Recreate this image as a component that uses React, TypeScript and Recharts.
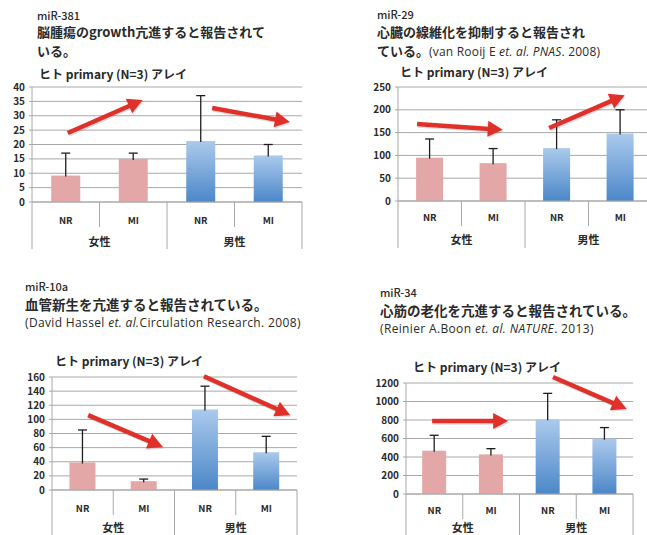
import React from 'react';
import { BarChart, Bar, XAxis, YAxis, CartesianGrid, Cell } from 'recharts';

const categories = ['NR', 'MI', 'NR', 'MI'];
const groups = ['女性', '女性', '男性', '男性'];

const mir381Values = [9.2, 15, 21.2, 16.2];
const mir381ErrTop = [17, 17, 37, 20];
const mir381Ticks = [0, 5, 10, 15, 20, 25, 30, 35, 40];
// trend arrows: [x start, value start, x end, value end], x in category units (0..4)
const mir381Arrows = [
  [0.53, 24, 1.64, 35.5],
  [2.67, 32.7, 3.82, 27.8],
];

const mir29Values = [95, 83, 116, 148];
const mir29ErrTop = [136, 115, 178, 200];
const mir29Ticks = [0, 50, 100, 150, 200, 250];
const mir29Arrows = [
  [0.3, 169, 1.65, 156],
  [2.38, 160, 3.57, 232],
];

const mir10aValues = [39, 12.5, 114, 53.5];
const mir10aErrTop = [85, 15.5, 147, 76];
const mir10aTicks = [0, 20, 40, 60, 80, 100, 120, 140, 160];
const mir10aArrows = [
  [0.59, 106, 1.81, 61],
  [2.48, 161, 3.89, 106],
];

const mir34Values = [468, 428, 808, 598];
const mir34ErrTop = [635, 490, 1088, 718];
const mir34Ticks = [0, 200, 400, 600, 800, 1000, 1200];
const mir34Arrows = [
  [0.46, 789, 1.8, 789],
  [2.59, 1265, 3.89, 919],
];

const FONT = '"Noto Sans CJK JP", "Noto Sans", sans-serif';
const LATIN = '"Open Sans", "Noto Sans CJK JP", sans-serif';
const TEXT = '#2a2a2a';
const GRID = '#a8a8a8';
const PINK = '#e3a7a7';
const RED = '#e0302a';

const BarWithError = (p: any) => {
  const { x, y, width, height, fill, payload } = p;
  if (!payload || !height) return null;
  const base = y + height;
  const ey = base - (payload.errTop / payload.value) * height;
  const cx = x + width / 2;
  return (
    <g>
      <rect x={x} y={y} width={width} height={height} fill={fill} />
      <line x1={cx} x2={cx} y1={y + 1} y2={ey} stroke="#1e1e1e" strokeWidth={1.3} />
      <line x1={cx - 4.5} x2={cx + 4.5} y1={ey} y2={ey} stroke="#1e1e1e" strokeWidth={1.3} />
    </g>
  );
};

const arrowShape = (x1: number, y1: number, x2: number, y2: number, key: number) => {
  const dx = x2 - x1;
  const dy = y2 - y1;
  const len = Math.hypot(dx, dy) || 1;
  const ux = dx / len;
  const uy = dy / len;
  const head = 15;
  const hw = 8;
  const bx = x2 - ux * head;
  const by = y2 - uy * head;
  const px = -uy;
  const py = ux;
  const pts = (ox: number, oy: number) =>
    `${x2 + ox},${y2 + oy} ${bx + px * hw + ox},${by + py * hw + oy} ${bx - px * hw + ox},${by - py * hw + oy}`;
  return (
    <g key={key}>
      <line x1={x1 + 1} y1={y1 + 1.5} x2={bx + 1} y2={by + 1.5} stroke="rgba(0,0,0,0.13)" strokeWidth={4.5} />
      <polygon points={pts(1, 1.5)} fill="rgba(0,0,0,0.13)" />
      <line x1={x1} y1={y1} x2={bx + ux * 2} y2={by + uy * 2} stroke={RED} strokeWidth={4.5} />
      <polygon points={pts(0, 0)} fill={RED} />
    </g>
  );
};

type PanelProps = {
  id: string;
  left: number;
  top: number;
  width: number;
  height: number;
  plotLeft: number;
  plotTop: number;
  plotRight: number;
  plotBottom: number;
  values: number[];
  errTop: number[];
  ticks: number[];
  arrows: number[][];
  nrDy: number;
  grpDy: number;
};

function Panel(props: PanelProps) {
  const { id, left, top, width, height, plotLeft, plotTop, plotRight, plotBottom, values, errTop, ticks, arrows, nrDy, grpDy } = props;
  const data = categories.map((c, i) => ({ key: `${groups[i]}-${c}`, value: values[i], errTop: errTop[i] }));
  const bw = (plotRight - plotLeft) / categories.length;
  const yW = plotLeft - left;
  const xH = top + height - plotBottom;
  const yMax = ticks[ticks.length - 1];
  const sx = (f: number) => plotLeft - left + f * bw;
  const sy = (v: number) => plotTop - top + (1 - v / yMax) * (plotBottom - plotTop);

  const Tick = (tp: any) => {
    const { x, y, index } = tp;
    const short = 25;
    const long = 47;
    const l = x - bw / 2;
    const r = x + bw / 2;
    const groupStart = index % 2 === 0;
    return (
      <g>
        <text x={x} y={y + nrDy} textAnchor="middle" dominantBaseline="central" fontFamily={FONT} fontWeight={700} fontSize={9.5} fill={TEXT}>
          {categories[index]}
        </text>
        <line x1={l} x2={l} y1={y} y2={y + (groupStart ? long : short)} stroke={GRID} strokeWidth={1} />
        {index === categories.length - 1 && <line x1={r} x2={r} y1={y} y2={y + long} stroke={GRID} strokeWidth={1} />}
        {groupStart && (
          <text x={r} y={y + grpDy} textAnchor="middle" dominantBaseline="central" fontFamily={FONT} fontWeight={700} fontSize={11} fill={TEXT}>
            {groups[index]}
          </text>
        )}
      </g>
    );
  };

  return (
    <div style={{ position: 'absolute', left, top, width, height }}>
      <BarChart
        width={width}
        height={height}
        data={data}
        margin={{ top: plotTop - top, right: left + width - plotRight, left: 0, bottom: 0 }}
        barCategoryGap="28.5%"
      >
        <defs>
          <linearGradient id={`grad-${id}`} x1="0" y1="0" x2="0" y2="1">
            <stop offset="0%" stopColor="#abcaec" />
            <stop offset="100%" stopColor="#4b87c8" />
          </linearGradient>
        </defs>
        <CartesianGrid vertical={false} stroke={GRID} strokeWidth={1} />
        <XAxis
          dataKey="key"
          height={xH}
          tick={<Tick />}
          tickLine={false}
          tickSize={0}
          tickMargin={0}
          axisLine={{ stroke: GRID }}
          interval={0}
        />
        <YAxis
          width={yW}
          domain={[ticks[0], yMax]}
          ticks={ticks}
          interval={0}
          tickSize={3}
          tickMargin={4}
          tickLine={{ stroke: GRID }}
          axisLine={{ stroke: GRID }}
          tick={{ fontFamily: FONT, fontWeight: 700, fontSize: 10, fill: TEXT }}
        />
        <Bar dataKey="value" isAnimationActive={false} shape={BarWithError}>
          {data.map((d, i) => (
            <Cell key={d.key} fill={groups[i] === '女性' ? PINK : `url(#grad-${id})`} />
          ))}
        </Bar>
      </BarChart>
      <svg width={width} height={height} style={{ position: 'absolute', left: 0, top: 0, overflow: 'visible', pointerEvents: 'none' }}>
        {arrows.map((a, i) => arrowShape(sx(a[0]), sy(a[1]), sx(a[2]), sy(a[3]), i))}
      </svg>
    </div>
  );
}

const label = (
  left: number,
  centerY: number,
  size: number,
  weight: number,
  content: React.ReactNode,
  lh = 17,
  family = FONT,
  spacing = 0,
) => (
  <div
    style={{
      position: 'absolute',
      left,
      top: centerY - lh / 2,
      fontFamily: family,
      fontSize: size,
      fontWeight: weight,
      lineHeight: `${lh}px`,
      letterSpacing: spacing,
      color: TEXT,
      whiteSpace: 'nowrap',
    }}
  >
    {content}
  </div>
);

const sub = (content: React.ReactNode) => (
  <span style={{ fontFamily: LATIN, fontSize: 12, fontWeight: 400, letterSpacing: 0.2 }}>{content}</span>
);

const CHART_TITLE = 'ヒト primary (N=3) アレイ';

export default function App() {
  return (
    <div style={{ position: 'absolute', left: 0, top: 0, width: 647, height: 535, background: '#fff', overflow: 'hidden' }}>
      {/* Panel 1 */}
      {label(37, 14.5, 11, 500, 'miR-381', 12)}
      {label(37, 32, 13, 700, '脳腫瘍のgrowth亢進すると報告されて', 14)}
      {label(37, 51, 13, 700, 'いる。', 14)}
      {label(39, 74, 12, 700, CHART_TITLE, 14)}
      <Panel id="p1" left={0} top={80} width={310} height={180} plotLeft={32} plotTop={87} plotRight={302} plotBottom={202}
        values={mir381Values} errTop={mir381ErrTop} ticks={mir381Ticks} arrows={mir381Arrows} nrDy={18} grpDy={39} />

      {/* Panel 2 */}
      {label(377, 14, 11, 500, 'miR-29', 12)}
      {label(377, 31.5, 13, 700, '心臓の線維化を抑制すると報告され', 14)}
      {label(377, 50.5, 13, 700, <>ている。{sub(<>(van Rooij E <i>et. al.</i> <i>PNAS</i>. 2008)</>)}</>, 14)}
      {label(400, 72, 12, 700, CHART_TITLE, 14)}
      <Panel id="p2" left={330} top={80} width={330} height={180} plotLeft={398} plotTop={87} plotRight={652} plotBottom={201}
        values={mir29Values} errTop={mir29ErrTop} ticks={mir29Ticks} arrows={mir29Arrows} nrDy={16} grpDy={38} />

      {/* Panel 3 */}
      {label(25, 286, 11, 500, 'miR-10a', 12)}
      {label(25, 304, 13.5, 700, '血管新生を亢進すると報告されている。', 15)}
      {label(25, 323, 12, 400, <>(David Hassel <i>et. al.</i>Circulation Research. 2008)</>, 14, LATIN, 0.35)}
      {label(55, 361, 12, 700, CHART_TITLE, 14)}
      <Panel id="p3" left={0} top={370} width={305} height={180} plotLeft={52} plotTop={377} plotRight={297} plotBottom={490}
        values={mir10aValues} errTop={mir10aErrTop} ticks={mir10aTicks} arrows={mir10aArrows} nrDy={18} grpDy={37} />

      {/* Panel 4 */}
      {label(380, 292, 11, 500, 'miR-34', 12)}
      {label(380, 310, 13.5, 700, '心筋の老化を亢進すると報告されている。', 14)}
      {label(380, 328, 12, 400, <>(Reinier A.Boon <i>et. al. NATURE</i>. 2013)</>, 13, LATIN, 0.35)}
      {label(413, 367, 12, 700, CHART_TITLE, 14)}
      <Panel id="p4" left={330} top={375} width={310} height={180} plotLeft={406} plotTop={383} plotRight={633} plotBottom={494}
        values={mir34Values} errTop={mir34ErrTop} ticks={mir34Ticks} arrows={mir34Arrows} nrDy={16} grpDy={33} />
    </div>
  );
}
